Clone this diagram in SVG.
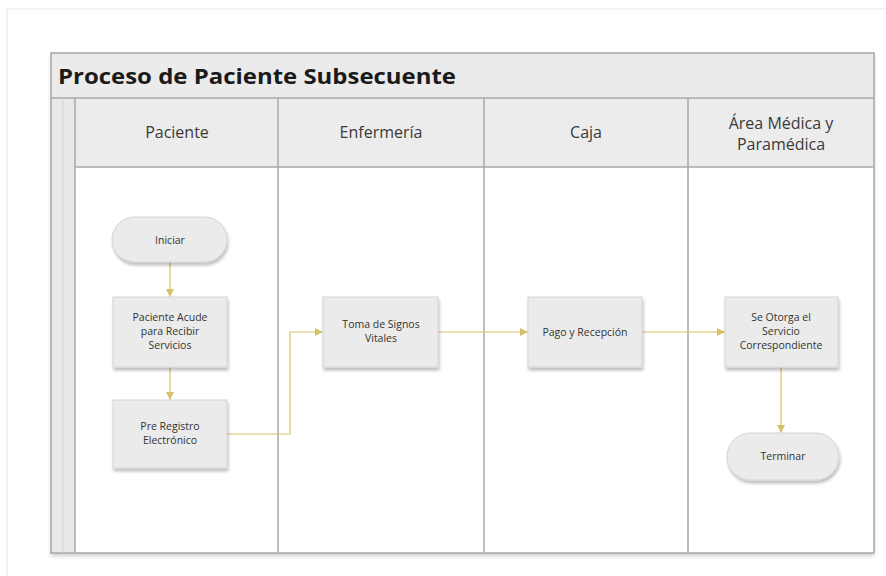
<svg xmlns="http://www.w3.org/2000/svg" width="886" height="576" viewBox="0 0 886 576">
<defs>
<filter id="sh" x="-10%" y="-10%" width="130%" height="140%"><feDropShadow dx="1" dy="3" stdDeviation="1.5" flood-color="#000" flood-opacity="0.25"/></filter>
<filter id="fsh" x="-2%" y="-2%" width="104%" height="104%"><feDropShadow dx="0" dy="3" stdDeviation="2" flood-color="#000" flood-opacity="0.2"/></filter>
<marker id="ah" viewBox="0 0 10 10" refX="10" refY="5" markerWidth="8" markerHeight="8" orient="auto" markerUnits="userSpaceOnUse"><path d="M0,0 L10,5 L0,10 z" fill="#d6c169"/></marker>
<style>
.lane{fill:none;stroke:#a8a8a8;stroke-width:1.5}
.hd{font-family:"Open Sans","Noto Sans",sans-serif;font-size:16px;fill:#3a3a3a;text-anchor:middle}
.nd{fill:#ebebeb;stroke:#d4d4d4;stroke-width:1;filter:url(#sh)}
.tx{font-family:"Open Sans","Noto Sans",sans-serif;font-size:10.5px;fill:#333;text-anchor:middle}
.cn{fill:none;stroke:#d6c169;stroke-width:1.2;marker-end:url(#ah)}
</style>
</defs>
<rect x="0" y="0" width="886" height="576" fill="#fff"/>
<path d="M7,576 V9 H886" fill="none" stroke="#efefef" stroke-width="1.5"/>
<g id="pool">
<rect x="51" y="53" width="823" height="500" fill="#fff" filter="url(#fsh)"/>
<rect x="51" y="53" width="823" height="45" fill="#ebebeb"/>
<rect x="51" y="98" width="24" height="455" fill="#e8e8e8"/>
<rect x="75" y="98" width="799" height="69" fill="#ececec"/>
<rect x="51" y="53" width="823" height="500" class="lane"/>
<line x1="51" y1="98" x2="874" y2="98" class="lane"/>
<line x1="75" y1="167" x2="874" y2="167" class="lane"/>
<line x1="75" y1="98" x2="75" y2="553" class="lane"/>
<line x1="63" y1="98" x2="63" y2="553" stroke="#d6d6d6" stroke-width="1"/>
<line x1="278" y1="98" x2="278" y2="553" class="lane"/>
<line x1="484" y1="98" x2="484" y2="553" class="lane"/>
<line x1="688" y1="98" x2="688" y2="553" class="lane"/>
<text x="58" y="84" font-family="Open Sans, Noto Sans, sans-serif" font-size="22" font-weight="bold" fill="#1a1a1a" textLength="398" lengthAdjust="spacingAndGlyphs">Proceso de Paciente Subsecuente</text>
<text x="177" y="138" class="hd">Paciente</text>
<text x="381" y="138" class="hd">Enfermería</text>
<text x="586" y="138" class="hd">Caja</text>
<text x="781" y="129" class="hd">Área Médica y</text>
<text x="781" y="150" class="hd">Paramédica</text>
</g>
<g id="connectors">
<path class="cn" d="M170,262 V297"/>
<path class="cn" d="M170,367 V400"/>
<path class="cn" d="M227,434 H290 V332 H323"/>
<path class="cn" d="M438,332 H528"/>
<path class="cn" d="M642,332 H725"/>
<path class="cn" d="M781,367 V433"/>
</g>
<g id="n_iniciar"><rect class="nd" x="112" y="217" width="115" height="45" rx="22.5"/><text class="tx" x="170" y="244">Iniciar</text></g>
<g id="n_acude"><rect class="nd" x="113" y="297" width="114" height="70"/><text class="tx" x="170" y="321">Paciente Acude</text><text class="tx" x="170" y="335">para Recibir</text><text class="tx" x="170" y="349">Servicios</text></g>
<g id="n_preregistro"><rect class="nd" x="113" y="400" width="114" height="68"/><text class="tx" x="170" y="430">Pre Registro</text><text class="tx" x="170" y="444">Electrónico</text></g>
<g id="n_toma"><rect class="nd" x="323" y="297" width="115" height="70"/><text class="tx" x="381" y="328">Toma de Signos</text><text class="tx" x="381" y="342">Vitales</text></g>
<g id="n_pago"><rect class="nd" x="528" y="297" width="114" height="70"/><text class="tx" x="585" y="336">Pago y Recepción</text></g>
<g id="n_otorga"><rect class="nd" x="725" y="297" width="113" height="70"/><text class="tx" x="781" y="321">Se Otorga el</text><text class="tx" x="781" y="335">Servicio</text><text class="tx" x="781" y="349">Correspondiente</text></g>
<g id="n_terminar"><rect class="nd" x="727" y="433" width="112" height="47" rx="23.5"/><text class="tx" x="783" y="460">Terminar</text></g>
</svg>
